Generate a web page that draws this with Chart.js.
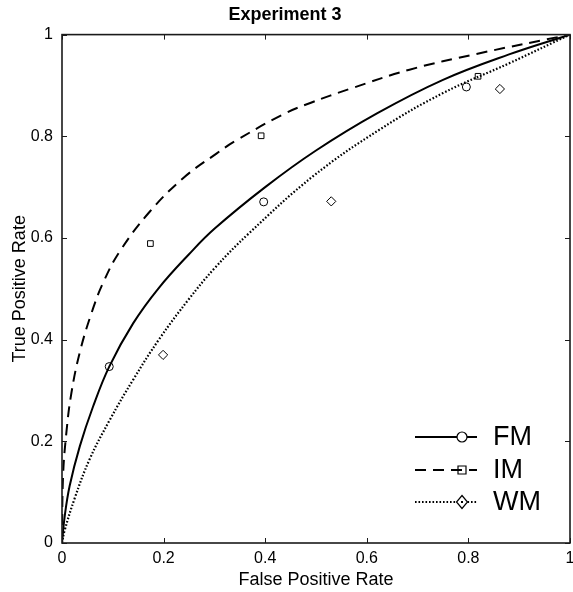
<!DOCTYPE html>
<html><head><meta charset="utf-8">
<script src="https://cdn.jsdelivr.net/npm/chart.js@4.4.0/dist/chart.umd.min.js"></script>
<style>html,body{margin:0;padding:0;background:#fff}#wrap{width:573px;height:592px}</style>
</head><body><div id="wrap"><canvas id="c" width="573" height="592"></canvas></div>
<script>
// ---- data ----
const seriesNames = ['FM', 'IM', 'WM'];
const tickValues = [0, 0.2, 0.4, 0.6, 0.8, 1];
const tickLabels = ['0', '0.2', '0.4', '0.6', '0.8', '1'];

// fitted ROC curves (false positive rate / true positive rate)
const fmCurveFPR = [0, 0.005, 0.015, 0.035, 0.061, 0.093, 0.14, 0.19, 0.25, 0.30, 0.40, 0.50, 0.62, 0.75, 0.88, 1];
const fmCurveTPR = [0, 0.05, 0.112, 0.19, 0.268, 0.347, 0.432, 0.501, 0.568, 0.618, 0.700, 0.772, 0.845, 0.911, 0.961, 1];
const imCurveFPR = [0, 0.002, 0.0087, 0.0185, 0.035, 0.058, 0.081, 0.114, 0.173, 0.24, 0.304, 0.34, 0.435, 0.49, 0.566, 0.684, 0.816, 1];
const imCurveTPR = [0, 0.130, 0.218, 0.295, 0.375, 0.452, 0.512, 0.574, 0.652, 0.719, 0.766, 0.79, 0.843, 0.866, 0.893, 0.931, 0.962, 1];
const wmCurveFPR = [0, 0.005, 0.025, 0.0545, 0.094, 0.140, 0.192, 0.25, 0.30, 0.369, 0.495, 0.625, 0.75, 0.881, 1];
const wmCurveTPR = [0, 0.024, 0.088, 0.165, 0.242, 0.321, 0.402, 0.48, 0.54, 0.61, 0.722, 0.813, 0.885, 0.944, 1];

// observed points
const fmObsFPR = [0.093, 0.397, 0.796];
const fmObsTPR = [0.347, 0.671, 0.897];
const imObsFPR = [0.174, 0.392, 0.819];
const imObsTPR = [0.589, 0.801, 0.918];
const wmObsFPR = [0.199, 0.530, 0.862];
const wmObsTPR = [0.370, 0.672, 0.893];

const toXY = (xs, ys) => xs.map((v, i) => ({x: v, y: ys[i]}));

const FONT = '"Liberation Sans", Arial, Helvetica, sans-serif';
const dashes = [[], [11, 7], [1.6, 1.9]];
const styles = ['circle', 'rect', 'rectRot'];
const radii = [4, 4, 4.6];

function curveDs(xs, ys, i) {
  return {label: seriesNames[i], data: toXY(xs, ys), showLine: true, borderColor: '#000',
    borderWidth: i === 2 ? 2.2 : 2, borderDash: dashes[i], pointRadius: 0, pointHoverRadius: 0,
    tension: 0.4, fill: false};
}
function obsDs(xs, ys, i) {
  return {label: seriesNames[i] + ' data', data: toXY(xs, ys), showLine: false,
    pointStyle: styles[i], pointRadius: radii[i], pointBorderColor: '#000',
    pointBackgroundColor: 'rgba(0,0,0,0)', pointBorderWidth: 1};
}

const framePlugin = {
  id: 'frame',
  afterDatasetsDraw(chart) {
    const {ctx, chartArea: a, scales: {x, y}} = chart;
    ctx.save();
    ctx.strokeStyle = '#1a1a1a';
    ctx.lineWidth = 1;
    const tl = 5;
    x.ticks.forEach(t => {
      const px = Math.round(x.getPixelForValue(t.value)) + 0.5;
      ctx.beginPath(); ctx.moveTo(px, a.bottom); ctx.lineTo(px, a.bottom - tl);
      ctx.moveTo(px, a.top); ctx.lineTo(px, a.top + tl); ctx.stroke();
    });
    y.ticks.forEach(t => {
      const py = Math.round(y.getPixelForValue(t.value)) + 0.5;
      ctx.beginPath(); ctx.moveTo(a.left, py); ctx.lineTo(a.left + tl, py);
      ctx.moveTo(a.right, py); ctx.lineTo(a.right - tl, py); ctx.stroke();
    });
    ctx.lineWidth = 1.6;
    ctx.strokeRect(a.left, a.top, a.right - a.left, a.bottom - a.top);
    ctx.restore();
  }
};

const legendPlugin = {
  id: 'matlabLegend',
  afterDraw(chart) {
    const {ctx, chartArea: a} = chart;
    ctx.save();
    const rows = [a.bottom - 106, a.bottom - 73, a.bottom - 41];
    const x0 = a.left + 353, x1 = a.left + 415, xm = a.left + 400, xt = a.left + 431;
    seriesNames.forEach((name, i) => {
      const yy = rows[i];
      ctx.strokeStyle = '#000';
      ctx.lineWidth = 2;
      ctx.setLineDash(dashes[i]);
      ctx.beginPath(); ctx.moveTo(x0, yy); ctx.lineTo(x1, yy); ctx.stroke();
      ctx.setLineDash([]);
      ctx.lineWidth = 1.2;
      ctx.fillStyle = '#fff';
      ctx.beginPath();
      if (i === 0) { ctx.arc(xm, yy, 5, 0, Math.PI * 2); }
      else if (i === 1) { ctx.rect(xm - 4, yy - 4, 8, 8); }
      else { ctx.moveTo(xm, yy - 6.5); ctx.lineTo(xm + 5.5, yy); ctx.lineTo(xm, yy + 6.5); ctx.lineTo(xm - 5.5, yy); ctx.closePath(); }
      if (i !== 1) ctx.fill();
      ctx.stroke();
      if (i === 2) { ctx.fillStyle = '#000'; ctx.fillRect(xm - 1, yy - 1, 2, 2); }
      ctx.fillStyle = '#000';
      ctx.font = '27px ' + FONT;
      ctx.textBaseline = 'middle';
      ctx.textAlign = 'left';
      ctx.fillText(name, xt, yy + 1);
    });
    ctx.restore();
  }
};

new Chart(document.getElementById('c'), {
  type: 'scatter',
  data: {
    datasets: [
      curveDs(fmCurveFPR, fmCurveTPR, 0),
      curveDs(imCurveFPR, imCurveTPR, 1),
      curveDs(wmCurveFPR, wmCurveTPR, 2),
      obsDs(fmObsFPR, fmObsTPR, 0),
      obsDs(imObsFPR, imObsTPR, 1),
      obsDs(wmObsFPR, wmObsTPR, 2)
    ]
  },
  options: {
    responsive: false,
    animation: false,
    devicePixelRatio: 1,
    layout: {autoPadding: false, padding: {left: 0, right: 3, top: 0, bottom: 0}},
    plugins: {
      legend: {display: false},
      tooltip: {enabled: false},
      title: {display: true, text: 'Experiment 3', color: '#000',
        font: {family: FONT, size: 18, weight: 'bold'}, padding: {top: 4, bottom: 9}}
    },
    scales: {
      x: {
        type: 'linear', min: 0, max: 1,
        afterBuildTicks: s => { s.ticks = tickValues.map(v => ({value: v})); },
        ticks: {color: '#000', font: {family: FONT, size: 16}, padding: 6, maxRotation: 0,
          callback: (v, i) => tickLabels[i]},
        grid: {display: false, drawTicks: false},
        border: {display: false},
        title: {display: true, text: 'False Positive Rate', color: '#000',
          font: {family: FONT, size: 18}, padding: {top: 0, bottom: 1}},
        afterFit: s => { s.height = 49; s.paddingLeft = 0; s.paddingRight = 0; }
      },
      y: {
        type: 'linear', min: 0, max: 1,
        afterBuildTicks: s => { s.ticks = tickValues.map(v => ({value: v})); },
        ticks: {color: '#000', font: {family: FONT, size: 16}, padding: 9,
          callback: (v, i) => tickLabels[i]},
        grid: {display: false, drawTicks: false},
        border: {display: false},
        title: {display: true, text: 'True Positive Rate', color: '#000',
          font: {family: FONT, size: 18}, padding: {top: 9, bottom: 0}},
        afterFit: s => { s.width = 62; s.paddingTop = 0; s.paddingBottom = 0; }
      }
    }
  },
  plugins: [framePlugin, legendPlugin]
});
</script>
</body></html>
